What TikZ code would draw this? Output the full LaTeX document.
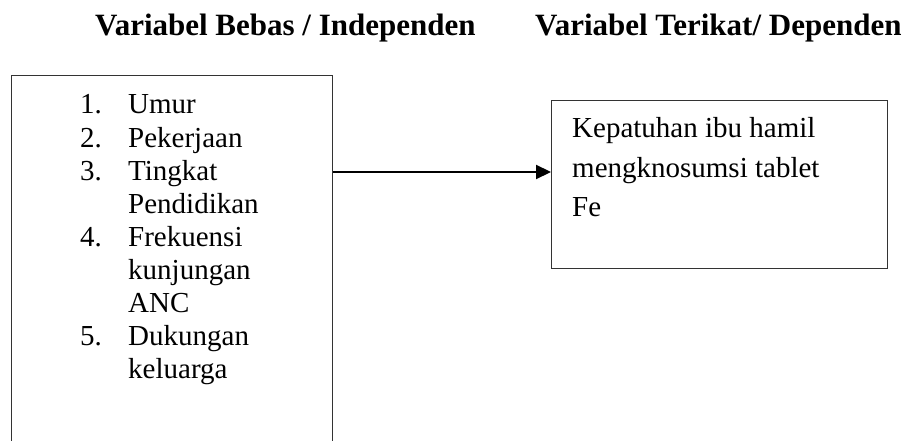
\documentclass[tikz,border=0pt]{standalone}
\usepackage{fontspec}
\setmainfont{Liberation Serif}
\usetikzlibrary{arrows.meta}
\begin{document}
\begin{tikzpicture}[x=1pt,y=-1pt,
  boxstyle/.style={draw=black!80, line width=1.2pt, rectangle, inner sep=0pt},
  head/.style={anchor=base west, inner sep=0pt, font=\fontsize{31}{36}\selectfont\bfseries},
  txt/.style={anchor=base west, inner sep=0pt, font=\fontsize{29}{33}\selectfont},
  arrowline/.style={line width=2.2pt, -{Triangle[length=15pt,width=14pt]}}]
\useasboundingbox (0,0) rectangle (921,441);
\clip (0,0) rectangle (921,441);
% headings
\node[head] (h1) at (95,36) {Variabel Bebas / Independen};
\node[head] (h2) at (535,36) {Variabel Terikat/ Dependen};
% boxes
\node[boxstyle, anchor=north west, minimum width=321pt, minimum height=420pt] (lbox) at (11,75) {};
\node[boxstyle, anchor=north west, minimum width=336pt, minimum height=168pt] (rbox) at (551,100) {};
% left list
\node[txt] (n1) at (80,114) {1.};
\node[txt] (t1) at (128,114) {Umur};
\node[txt] (n2) at (80,147) {2.};
\node[txt] (t2) at (128,147) {Pekerjaan};
\node[txt] (n3) at (80,180) {3.};
\node[txt] (t3) at (128,180) {Tingkat};
\node[txt] (t3b) at (128,213) {Pendidikan};
\node[txt] (n4) at (80,246) {4.};
\node[txt] (t4) at (128,246) {Frekuensi};
\node[txt] (t4b) at (128,279) {kunjungan};
\node[txt] (t4c) at (128,312) {ANC};
\node[txt] (n5) at (80,345) {5.};
\node[txt] (t5) at (128,345) {Dukungan};
\node[txt] (t5b) at (128,378) {keluarga};
% right text
\node[txt] (r1) at (572,138) {Kepatuhan ibu hamil};
\node[txt] (r2) at (572,177) {mengknosumsi tablet};
\node[txt] (r3) at (572,216) {Fe};
% arrow
\coordinate (arr) at (440,172);
\draw[arrowline] (lbox.east |- arr) -- (rbox.west |- arr);
\end{tikzpicture}
\end{document}
